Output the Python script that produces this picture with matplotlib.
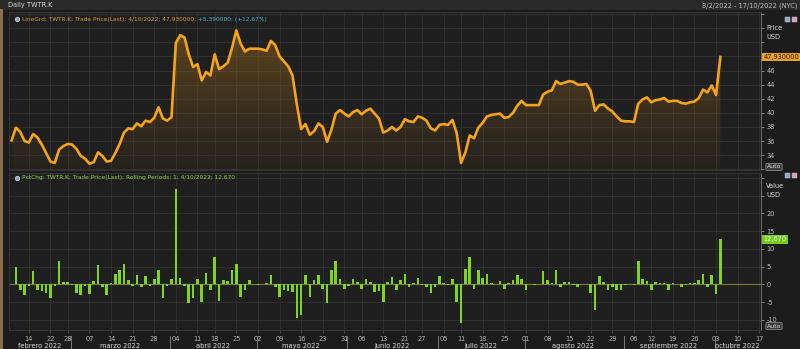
import numpy as np
import pandas as pd
import matplotlib
matplotlib.use("Agg")
import matplotlib.pyplot as plt
import matplotlib.transforms as mtransforms
from matplotlib.colors import LinearSegmentedColormap
from matplotlib.patches import Polygon, Rectangle

# trading calendar shown on the axis (NYSE holidays removed), runs past the last quote
holidays = ["2022-02-21", "2022-04-15", "2022-05-30", "2022-06-20", "2022-07-04", "2022-09-05"]
days = pd.bdate_range("2022-02-08", "2022-10-17", freq="C", holidays=holidays)

# TWTR.K last trade price, 8 Feb - 4 Oct 2022
price = [
    36.1, 37.9, 37.3, 36.0, 35.8, 37.0, 36.5, 35.5, 34.3, 33.1, 32.9, 34.8, 35.3, 35.6,
    35.5, 34.9, 33.9, 33.5, 32.8, 33.0, 34.4, 33.9, 33.1, 33.2, 34.3, 35.6, 37.2, 37.8,
    37.7, 38.5, 38.1, 38.9, 38.7, 39.3, 40.8, 39.2, 38.9,
    39.4, 49.9, 51.0, 50.7, 48.3, 46.5, 46.9, 44.6, 45.8, 45.3, 48.3, 46.2, 46.6, 47.1,
    49.2, 51.7, 49.8, 48.7, 49.1, 49.1,
    49.1, 49.0, 48.8, 50.2, 49.6, 48.0, 47.3, 46.6, 45.3, 41.2, 37.7, 38.4, 36.9, 37.4,
    38.5, 38.0, 35.9, 37.6, 39.9, 40.4, 39.9,
    39.5, 40.1, 40.4, 39.8, 40.3, 40.6, 39.9, 39.2, 37.2, 37.5, 38.0, 37.5, 38.0, 39.1,
    38.8, 38.7, 39.5, 39.3, 38.9, 37.8, 37.5,
    38.3, 38.4, 38.3, 39.0, 37.1, 32.9, 34.4, 36.8, 36.4, 37.9, 38.6, 39.5, 39.7, 39.8,
    39.9, 39.3, 39.4, 40.0, 41.0, 41.7,
    41.1, 41.1, 41.1, 41.1, 42.6, 43.0, 43.2, 44.5, 44.1, 44.3, 44.5, 44.4, 44.0, 44.0,
    44.1, 43.1, 40.3, 41.1, 41.2, 40.6, 40.2, 39.5, 38.9,
    38.8, 38.8, 38.7, 41.3, 41.9, 42.2, 41.5, 41.8, 41.9, 42.1, 41.6, 41.7, 41.7, 41.4,
    41.3, 41.5, 41.6, 42.1, 43.3, 42.9, 43.9,
    42.54, 47.93,
]

# daily % change (rolling period 1)
pct = [
    0.0, 5.0, -1.7, -3.1, -0.5, 3.7, -1.7, -1.9, -2.6, -4.0, -0.6, 6.7, 0.6, 0.6,
    -0.2, -2.6, -3.1, -0.5, -2.8, 0.9, 5.3, -0.7, -3.1, 0.3, 2.8, 4.1, 5.6, 1.3,
    -0.6, 2.7, -0.9, 2.2, -0.4, 1.5, 4.1, -4.0, -0.6,
    1.6, 26.9, 1.9, -0.5, -5.2, -4.0, 1.6, -4.9, 3.1, -1.5, 7.6, -4.6, 1.1, 0.9,
    4.1, 5.6, -3.7, -1.7, 1.1, 0.1,
    -0.2, 0.2, 0.3, 2.7, -0.9, -3.5, -1.5, -1.9, -2.1, -9.5, -8.6, 2.5, -3.7, 1.1,
    2.7, -1.2, -5.4, 3.9, 6.5, 1.6, -1.2,
    -0.6, 1.5, 0.6, -1.2, 1.4, 0.6, -2.1, -1.9, -4.9, 0.6, 2.0, -1.5, 1.1, 2.8,
    -0.7, 0.3, 1.9, -0.3, -0.9, -2.4, -0.9,
    2.2, 0.3, -0.3, 1.5, -4.9, -10.9, 4.4, 7.8, -1.2, 4.1, 1.9, 2.8, 0.4, 0.2,
    0.9, -1.2, 0.3, 1.3, 2.5, 1.6,
    -1.7, 0.1, -0.1, 0.2, 3.7, 1.1, 0.3, 3.9, -0.9, 0.6, 0.6, -0.2, -0.9, 0.1,
    0.2, -2.4, -7.2, 2.3, 0.6, -1.5, -0.9, -1.7, -1.5,
    -0.2, 0.1, -0.2, 6.7, 1.6, 0.9, -1.7, 0.6, 0.3, 0.4, -1.5, 0.3, 0.0, -0.9,
    -0.3, 0.4, 0.3, 1.3, 2.8, -0.9, 2.7,
    -2.8, 12.67,
]

months = ["febrero", "marzo", "abril", "mayo", "junio", "julio", "agosto", "septiembre", "octubre"]

BG = "#1c1c1c"
PANEL = "#1f1f1f"
GRID = "#323232"
ORANGE = "#f5a31a"
GREEN = "#7fd420"
W, H = 800, 349

x = np.arange(len(price))
n_days = len(days)
week = days.isocalendar().week.values
tick_idx = [i for i in range(1, n_days) if week[i] != week[i - 1]]
tick_lab = [days[i].strftime("%d") for i in tick_idx]
month_start = [i for i in range(n_days) if i == 0 or days[i].month != days[i - 1].month]

fig = plt.figure(figsize=(W / 100, H / 100), dpi=100, facecolor=BG)


def px_axes(x0, y0, x1, y1):
    return fig.add_axes([x0 / W, 1 - y1 / H, (x1 - x0) / W, (y1 - y0) / H])


def fx(px):
    return px / W


def fy(py):
    return 1 - py / H


ax1 = px_axes(9, 12, 761, 170)
ax2 = px_axes(9, 173, 761, 330)

for ax in (ax1, ax2):
    ax.set_facecolor(PANEL)
    ax.set_axisbelow(True)
    ax.grid(True, color=GRID, lw=0.6)
    for s in ("left", "top", "bottom"):
        ax.spines[s].set_color("#3a3a3a")
        ax.spines[s].set_linewidth(0.6)
    ax.spines["right"].set_color("#707070")
    ax.spines["right"].set_linewidth(0.7)
    ax.yaxis.tick_right()
    ax.tick_params(axis="y", labelsize=4.8, labelcolor="#c0c0c0", color="#909090",
                   length=2.5, width=0.6, pad=1.5)
    ax.set_xticks(tick_idx)
    ax.set_xlim(-0.6, n_days - 0.6)

# ---- price panel
ybot, ytop = 31.9, 54.3
verts = [(x[0], ybot)] + list(zip(x, price)) + [(x[-1], ybot)]
poly = Polygon(verts, closed=True, facecolor="none", edgecolor="none")
ax1.add_patch(poly)
fade = LinearSegmentedColormap.from_list(
    "fade", [(0.50, 0.34, 0.10, 0.06), (0.62, 0.42, 0.12, 0.50)])
grad = np.linspace(0, 1, 256).reshape(-1, 1)
im = ax1.imshow(grad, extent=[x[0], x[-1], ybot, max(price)], origin="lower",
                cmap=fade, aspect="auto", zorder=1)
im.set_clip_path(poly)
ax1.plot(x, price, color=ORANGE, lw=1.9, solid_joinstyle="round", zorder=3)

pticks = np.arange(32, 55, 2)
ax1.set_yticks(pticks)
ax1.set_yticklabels([str(v) if 34 <= v <= 46 else "" for v in pticks])
ax1.set_ylim(ybot, ytop)
ax1.set_xlim(-0.6, n_days - 0.6)
ax1.tick_params(axis="x", length=0, labelbottom=False)

# ---- pct change panel
ax2.bar(x, pct, width=0.6, color=GREEN, zorder=3)
ax2.axhline(0, color="#7c7c3c", lw=0.8, zorder=2)
vticks = np.arange(-10, 31, 5)
ax2.set_yticks(vticks)
ax2.set_yticklabels([str(v) if v <= 20 else "" for v in vticks])
ax2.set_ylim(-12.9, 31.4)
ax2.set_xticklabels(tick_lab)
ax2.tick_params(axis="x", labelsize=4.8, labelcolor="#b0b0b0", color="#555555",
                length=2, width=0.5, pad=2.0)

# month names under the day ticks
trans = mtransforms.blended_transform_factory(ax2.transData, ax2.transAxes)
for k, m in enumerate(months):
    i0 = month_start[k]
    i1 = month_start[k + 1] - 1 if k + 1 < len(month_start) else n_days - 1
    ax2.text((i0 + i1) / 2, -0.10, f"{m} {days[i0].year}", transform=trans,
             ha="center", va="center", fontsize=4.8, color="#e0e0e0", clip_on=False)
    if k > 0:
        ax2.plot([i0 - 0.3, i0 - 0.3], [-0.04, -0.14], transform=trans, color="#8a8a8a",
                 lw=0.6, clip_on=False)

# ---- header and panel captions
fig.patches.append(Rectangle((0, fy(10)), 1, 10 / H, transform=fig.transFigure,
                             facecolor="#2a2a2a", edgecolor="none", zorder=0))
fig.patches.append(Rectangle((0, 0), fx(3), fy(9), transform=fig.transFigure,
                             facecolor="#8b6b4c", edgecolor="none", zorder=5))
fig.text(fx(8), fy(5), "Daily TWTR.K", fontsize=4.8, color="#d8d8d8", va="center")
fig.text(fx(797), fy(6), "8/2/2022 - 17/10/2022 (NYC)", fontsize=4.8, color="#bdbdbd",
         va="center", ha="right")

t1 = fig.text(fx(22), fy(19), "LineGrd; TWTR.K; Trade Price(Last); 4/10/2022; 47,930000;",
              fontsize=4.2, color="#e09a28", va="center")
ax1.annotate(" +5,390000; (+12,67%)", xy=(1, 0.5), xycoords=t1, va="center", ha="left",
             fontsize=4.2, color="#39b8c8")
fig.text(fx(22), fy(178),
         "PctChg; TWTR.K; Trade Price(Last); Rolling Periods; 1; 4/10/2022; 12,670",
         fontsize=4.2, color="#8fd43a", va="center")
for yy in (19, 178):
    fig.lines.append(plt.Line2D([fx(16.5)], [fy(yy)], transform=fig.transFigure,
                                marker="o", ms=3.2, mfc="#8aa4bf", mec="#dddddd", mew=0.5))

# right-hand labels
fig.text(fx(766), fy(28), "Price", fontsize=4.8, color="#dddddd", va="center")
fig.text(fx(766), fy(37), "USD", fontsize=4.8, color="#dddddd", va="center")
fig.text(fx(766), fy(186), "Value", fontsize=4.8, color="#dddddd", va="center")
fig.text(fx(766), fy(195), "USD", fontsize=4.8, color="#dddddd", va="center")

ytr1 = mtransforms.blended_transform_factory(ax1.transAxes, ax1.transData)
ax1.text(1.003, price[-1], f"{price[-1]:.6f}".replace(".", ","), transform=ytr1,
         fontsize=4.8, color="#1a1a1a", va="center", ha="left", clip_on=False,
         bbox=dict(boxstyle="square,pad=0.2", fc="#f0a020", ec="none"))
ytr2 = mtransforms.blended_transform_factory(ax2.transAxes, ax2.transData)
ax2.text(1.003, pct[-1], f"{pct[-1]:.3f}".replace(".", ","), transform=ytr2,
         fontsize=4.8, color="#f4f4f4", va="center", ha="left", clip_on=False,
         bbox=dict(boxstyle="square,pad=0.2", fc="#74cc1c", ec="none"))

for yy in (167, 326):
    fig.text(fx(774), fy(yy), "Auto", fontsize=4.4, color="#e0e0e0", va="center",
             ha="center", bbox=dict(boxstyle="round,pad=0.15", fc="#3a3a3a", ec="#9a9a9a",
                                    lw=0.5))
for yy in (16, 172):
    fig.patches.append(Rectangle((fx(785), fy(yy + 6)), 5 / W, 5 / H,
                                 transform=fig.transFigure, facecolor="#8fa8c8",
                                 edgecolor="#cccccc", lw=0.3))
    fig.patches.append(Rectangle((fx(792), fy(yy + 6)), 5 / W, 5 / H,
                                 transform=fig.transFigure, facecolor="#d4a0b4",
                                 edgecolor="#cccccc", lw=0.3))

fig.savefig("out.png", dpi=100, facecolor=BG)
